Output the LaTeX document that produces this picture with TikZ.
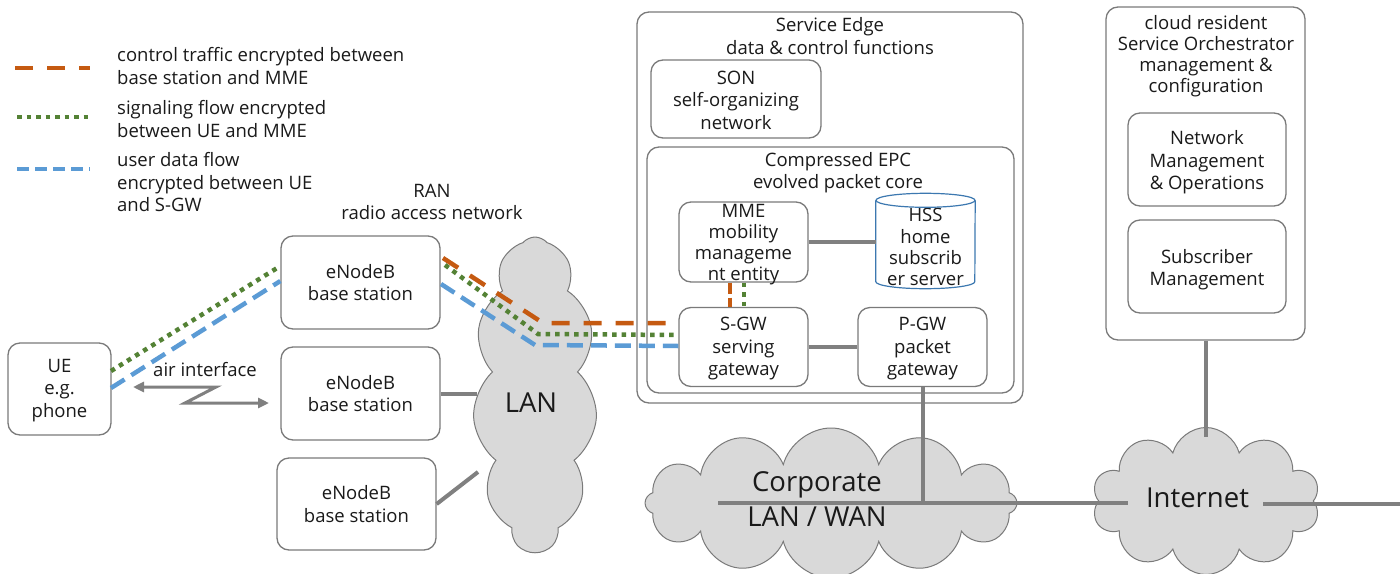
\documentclass[tikz,border=0pt]{standalone}
\usepackage{fontspec}
\setmainfont{Open Sans}
\usetikzlibrary{shapes.symbols,shapes.geometric,arrows.meta}
\definecolor{cOr}{HTML}{C55A11}
\definecolor{cGr}{HTML}{548235}
\definecolor{cBl}{HTML}{5B9BD5}
\definecolor{cLn}{HTML}{808080}
\definecolor{cBd}{HTML}{7A7A7A}
\definecolor{cCl}{HTML}{D9D9D9}
\definecolor{cTx}{HTML}{1A1A1A}
\definecolor{cHs}{HTML}{3C78B0}
\newcommand\fsA{\fontsize{18.5}{22.5}\selectfont}
\newcommand\fsB{\fontsize{18.5}{21.2}\selectfont}
\newcommand\fsL{\fontsize{27.5}{35}\selectfont}
\begin{document}
\begin{tikzpicture}[x=1pt,y=-1pt,
  box/.style={draw=cBd,line width=1.3pt,rounded corners=12pt,align=center,inner sep=0pt,text=cTx,font=\fsA},
  txt/.style={align=center,inner sep=0pt,text=cTx,font=\fsA},
  link/.style={draw=cLn,line width=4pt},
  cloudsh/.style={cloud,cloud ignores aspect,draw=cBd,fill=cCl,line width=1pt,inner sep=0pt},
  orflow/.style={draw=cOr,line width=4.5pt,dash pattern=on 18pt off 14pt},
  grflow/.style={draw=cGr,line width=4.5pt,dash pattern=on 4.5pt off 5pt},
  blflow/.style={draw=cBl,line width=4.5pt,dash pattern=on 16pt off 8pt},
  air/.style={draw=cLn,line width=3pt,{Triangle[length=11pt,width=10pt]}-{Triangle[length=11pt,width=10pt]}}
]
\useasboundingbox[fill=white] (0,0) rectangle (1400,573);

% legend
\coordinate (lo1) at (15,68);  \coordinate (lo2) at (90,68);
\coordinate (lg1) at (17,117); \coordinate (lg2) at (90,117);
\coordinate (lb1) at (17,169); \coordinate (lb2) at (90,169);
\draw[orflow] (lo1) -- (lo2);
\draw[grflow] (lg1) -- (lg2);
\draw[blflow,dash pattern=on 12pt off 6pt] (lb1) -- (lb2);
\node[txt,align=left,anchor=west] (leg1) at (117,66) {control traffic encrypted between\\base station and MME};
\node[txt,align=left,anchor=west] (leg2) at (117,119) {signaling flow encrypted\\between UE and MME};
\node[txt,align=left,anchor=west] (leg3) at (117,182.5) {user data flow\\encrypted between UE\\and S-GW};

% outer containers
\node[box,minimum width=386pt,minimum height=391pt] (se) at (830,207.5) {};
\node[txt] (setitle) at (830,36) {Service Edge\\data \& control functions};
\node[box,minimum width=170pt,minimum height=78pt] (son) at (736,99) {};
\node[txt] (sontxt) at (736,100) {SON\\self-organizing\\network};
\node[box,minimum width=367pt,minimum height=246pt] (epc) at (830.5,270) {};
\node[txt] (epctitle) at (838,172.5) {Compressed EPC\\evolved packet core};

\node[box,minimum width=199pt,minimum height=333pt] (orch) at (1205.5,173.5) {};
\node[txt,font=\fsB] (orchtitle) at (1206,56) {cloud resident\\Service Orchestrator\\management \&\\configuration};
\node[box,minimum width=158pt,minimum height=93pt] (nm) at (1207,159.5) {};
\node[txt] (nmtxt) at (1207,162.5) {Network\\Management\\\& Operations};
\node[box,minimum width=158pt,minimum height=93pt] (sm) at (1207,266.5) {};
\node[txt] (smtxt) at (1207,269.5) {Subscriber\\Management};

% clouds
\node[cloudsh,cloud puffs=11,cloud puff arc=100,minimum width=124pt,minimum height=315pt] (lan) at (535,394.5) {};
\node[cloudsh,cloud puffs=12,minimum width=372pt,minimum height=150pt] (corp) at (831,503) {};
\node[cloudsh,cloud puffs=10,minimum width=228pt,minimum height=147pt] (inet) at (1206,501) {};

% RAN boxes
\node[box,minimum width=103pt,minimum height=92pt] (ue) at (59.5,389) {};
\node[txt] (uetxt) at (59.5,390.5) {UE\\e.g.\\phone};
\node[box,minimum width=159pt,minimum height=93pt] (enb1) at (360.5,282.5) {eNodeB\\base station};
\node[box,minimum width=159pt,minimum height=93pt] (enb2) at (360.5,393.5) {eNodeB\\base station};
\node[box,minimum width=159pt,minimum height=92pt] (enb3) at (356.5,504) {eNodeB\\base station};
\node[txt] (ran) at (432,202) {RAN\\radio access network};

% EPC elements
\node[box,minimum width=129pt,minimum height=80pt] (mme) at (743.5,242) {};
\node[txt,font=\fsB] (mmetxt) at (743.5,244.5) {MME\\mobility\\manageme\\nt entity};
\node[txt,font=\fsB,minimum width=99pt,minimum height=95pt] (hss) at (925.5,241) {};
\node[txt,font=\fsB] (hsstxt) at (925.5,247) {HSS\\home\\subscrib\\er server};
\draw[draw=cHs,line width=1.2pt]
  ([yshift=-7pt]hss.north west) -- ([yshift=7pt]hss.south west)
  arc[start angle=180,end angle=360,x radius=49.5pt,y radius=7pt]
  -- ([yshift=-7pt]hss.north east);
\draw[draw=cHs,line width=1.2pt] ([yshift=-7pt]hss.north) ellipse[x radius=49.5pt,y radius=7pt];
\node[box,minimum width=129pt,minimum height=79pt] (sgw) at (743.5,347) {};
\node[txt] (sgwtxt) at (743.5,349) {S-GW\\serving\\gateway};
\node[box,minimum width=129pt,minimum height=79pt] (pgw) at (922.5,347) {};
\node[txt] (pgwtxt) at (922.5,349) {P-GW\\packet\\gateway};

% gray links
\draw[link] (mme.east |- 0,242) -- (hss.west |- 0,242);
\draw[link] (sgw.east) -- (pgw.west);
\draw[link] (enb2.east) -- (lan.west |- enb2.east);
\coordinate (lanb) at (478,472);
\draw[link] (enb3.east) -- (lanb);
\coordinate (cl) at (718,503);
\coordinate (il) at (1128,503);
\draw[link] (cl) -- (il);
\draw[link] (pgw.south) -- (pgw.south |- cl);
\draw[link] (orch.south) -- (orch.south |- 0,437);
\coordinate (ir1) at (1263,504);
\coordinate (ir2) at (1400,504);
\draw[link] (ir1) -- (ir2);

% cloud labels
\node[txt,font=\fsL] (lantxt) at (531,403) {LAN};
\node[txt,font=\fsL] (corptxt) at (817,499) {Corporate\\LAN / WAN};
\node[txt,font=\fsL] (inettxt) at (1197.5,498) {Internet};

% air interface
\coordinate (a1) at (133,387);
\coordinate (a2) at (216,387);
\coordinate (a3) at (185,403);
\coordinate (a4) at (269,403);
\draw[air] (a1) -- (a2) -- (a3) -- (a4);
\node[txt] (airtxt) at (205,370) {air interface};

% flows: UE -> eNodeB
\draw[grflow] (111,371) coordinate (g0) -- (enb1.west |- 0,266);
\draw[blflow] (111,388) coordinate (b0) -- (enb1.west |- 0,281);
% flows: eNodeB -> S-GW
\draw[orflow] (443,258) -- (543,323) -- (sgw.west |- 0,323);
\draw[grflow] (445,265) -- (538,334) -- (sgw.west |- 0,335);
\draw[blflow] (441,284) -- (535,345) -- (sgw.west |- 0,346);
% flows: MME <-> S-GW
\draw[orflow,dash pattern=on 11pt off 4pt] (mme.south -| 730,0) -- (sgw.north -| 730,0);
\draw[grflow] (mme.south -| 744,0) -- (sgw.north -| 744,0);
\end{tikzpicture}
\end{document}
